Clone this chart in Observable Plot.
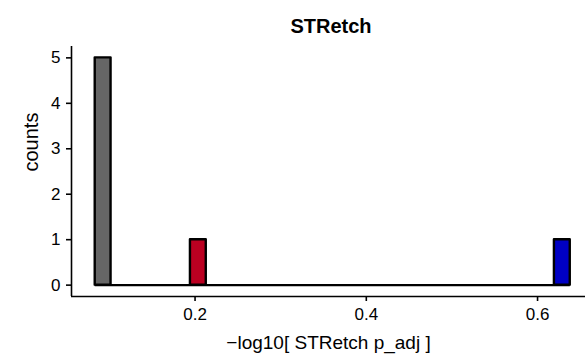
<!DOCTYPE html>
<html>
<head>
<meta charset="utf-8">
<script src="https://cdn.jsdelivr.net/npm/d3@7"></script>
<script src="https://cdn.jsdelivr.net/npm/@observablehq/plot@0.6"></script>
<style>
  html, body { margin: 0; padding: 0; background: #fff; overflow: hidden; }
  body { width: 585px; height: 360px; font-family: "Liberation Sans", Arial, Helvetica, sans-serif; }
  #title { height: 40px; width: 520px; margin-left: 71px; text-align: center; font-weight: bold; font-size: 20px; line-height: 20px; box-sizing: border-box; overflow: hidden; }
  #title span { display: inline-block; margin-top: 16px; }
  #chart svg g[aria-label="y-axis tick"], #chart svg g[aria-label="x-axis tick"] { stroke-width: 1.6; }
</style>
</head>
<body>
<div id="title"><span>STRetch</span></div>
<div id="chart"></div>
<script>
// Histogram bins (−log10 adjusted p-values)
const groups = ["low", "mid", "high"];
const binStart = [0.0834, 0.1946, 0.6197];
const binEnd   = [0.1019, 0.2131, 0.6382];
const counts   = [5, 1, 1];
const groupColors = ["#666666", "#BB0021", "#0000C4"];
const xTicks = [0.2, 0.4, 0.6];
const yTicks = [0, 1, 2, 3, 4, 5];
const xDomain = [0.0557, 0.656];
const yDomain = [-0.25, 5.25];

const bars = groups.map((g, i) => ({group: g, x1: binStart[i], x2: binEnd[i], count: counts[i]}));

const plot = Plot.plot({
  width: 585,
  height: 320,
  marginLeft: 71,
  marginRight: 0,
  marginTop: 6,
  marginBottom: 64,
  style: {fontFamily: '"Liberation Sans", Arial, Helvetica, sans-serif', fontSize: "17px", color: "black", background: "white"},
  x: {domain: xDomain, ticks: xTicks, tickFormat: d3.format(".1f"), tickSize: 5, tickPadding: 6, label: null},
  y: {domain: yDomain, ticks: yTicks, tickFormat: d3.format("d"), tickSize: 5, tickPadding: 6, label: null},
  color: {domain: groups, range: groupColors},
  marks: [
    Plot.ruleX([xDomain[0]], {y1: yDomain[0], y2: yDomain[1], stroke: "black", strokeWidth: 1.6}),
    Plot.ruleY([yDomain[0]], {x1: xDomain[0], x2: xDomain[1], stroke: "black", strokeWidth: 1.6}),
    Plot.ruleY([0], {x1: binStart[0], x2: binEnd[binEnd.length - 1], stroke: "black", strokeWidth: 2.4}),
    Plot.rectY(bars, {x1: "x1", x2: "x2", y1: 0, y2: "count", fill: "group", stroke: "black", strokeWidth: 2.4, strokeLinejoin: "round"}),
    Plot.text(["counts"], {frameAnchor: "left", rotate: -90, dx: -40, fontSize: 20, text: d => d}),
    Plot.text(["\u2212log10[ STRetch p_adj ]"], {frameAnchor: "bottom", dy: 52, fontSize: 19, text: d => d})
  ]
});
document.getElementById("chart").appendChild(plot);
</script>
</body>
</html>
